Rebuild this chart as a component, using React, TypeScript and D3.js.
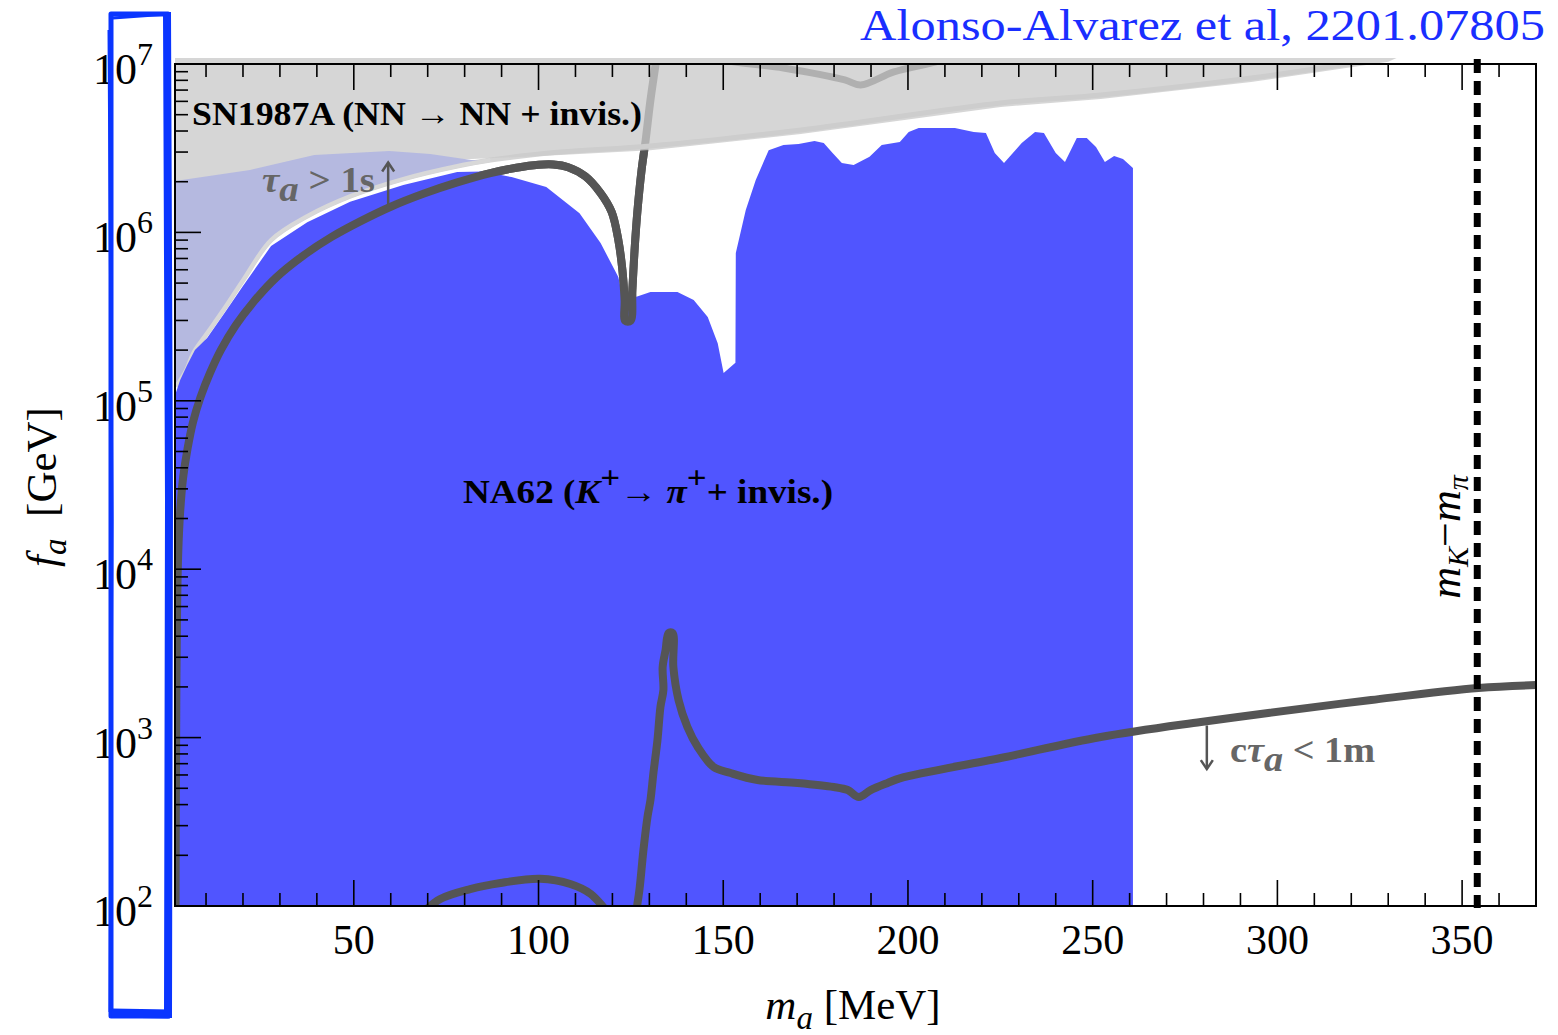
import React from 'react';
import * as d3 from 'd3';

const WIDTH = 1558;
const HEIGHT = 1035;
const PLOT = { left: 175, right: 1536, top: 64, bottom: 906 };

// axis domains & ticks
const massDomain: [number, number] = [1.6, 370];
const faDomain: [number, number] = [1e2, 1e7];
const xTickValues = [50, 100, 150, 200, 250, 300, 350];
const yTickExponents = [2, 3, 4, 5, 6, 7];
const mKminusMpi = 354.1;

// NA62 excluded region: upper boundary [m_a (MeV), f_a (GeV)]
const na62Boundary: [number, number][] = [
  [1.6, 1.08e5], [3.0, 1.33e5], [4.9, 1.63e5], [7.0, 2.0e5], [10.3, 2.36e5], [15.2, 3.37e5],
  [20.0, 4.81e5], [27.6, 8.3e5], [37.4, 1.15e6], [49.0, 1.52e6], [63.4, 1.91e6], [78.0, 2.28e6],
  [85.0, 2.3e6], [92.7, 2.13e6], [102.1, 1.86e6], [111.1, 1.3e6], [116.8, 8.65e5], [121.6, 5.43e5],
  [122.5, 4.4e5], [124.1, 4.13e5], [126.3, 4.13e5], [130.3, 4.43e5], [137.6, 4.43e5], [142.0, 3.97e5],
  [145.8, 3.15e5], [148.5, 2.2e5], [150.1, 1.46e5], [153.3, 1.68e5], [153.4, 7.55e5], [156.1, 1.36e6],
  [158.8, 2.05e6], [162.3, 3.08e6], [166.3, 3.3e6], [170.4, 3.35e6], [174.7, 3.49e6], [177.2, 3.4e6],
  [179.6, 2.96e6], [182.1, 2.58e6], [185.3, 2.51e6], [189.6, 2.81e6], [192.9, 3.3e6], [197.8, 3.44e6],
  [200.2, 3.95e6], [202.9, 4.17e6], [212.7, 4.17e6], [217.8, 3.95e6], [221.1, 3.89e6], [223.5, 2.96e6],
  [226.0, 2.58e6], [230.8, 3.4e6], [234.4, 3.95e6], [236.8, 3.89e6], [240.0, 2.96e6], [242.5, 2.62e6],
  [245.7, 3.64e6], [248.4, 3.64e6], [250.9, 3.21e6], [253.3, 2.62e6], [255.8, 2.84e6], [258.2, 2.73e6],
  [260.9, 2.41e6],
];

// SN1987A region: lower boundary
const snBoundary: [number, number][] = [
  [1.6, 2.02e6], [35.5, 2.32e6], [76.1, 2.69e6], [105.9, 2.88e6], [130.3, 3.08e6], [171.0, 3.84e6],
  [225.1, 5.56e6], [252.2, 6.2e6], [292.9, 7.82e6], [330.0, 1.03e7], [340.0, 1.3e7],
];

// pale tau_a > 1s contour
const paleLine: [number, number][] = [
  [1.9, 1.22e5], [4.6, 1.52e5], [6.5, 1.92e5], [10.3, 2.53e5], [15.2, 3.61e5], [20.0, 5.21e5],
  [27.6, 9.02e5], [37.4, 1.25e6], [49.0, 1.64e6], [63.4, 2.08e6], [78.0, 2.48e6], [87.0, 2.69e6],
  [105.9, 3.0e6], [130.3, 3.26e6], [171.0, 4.06e6], [225.1, 5.87e6], [252.2, 6.55e6], [292.9, 8.26e6],
  [330.0, 1.09e7],
];

// lavender region upper edge
const lavenderTop: [number, number][] = [
  [1.6, 2.02e6], [21.9, 2.35e6], [39.3, 2.88e6], [59.6, 3.04e6], [70.7, 2.92e6], [81.8, 2.69e6], [87.0, 2.66e6],
];

// upper lifetime curve (tau_a = 1 s)
const upperCurve: [number, number][] = [
  [1.76, 100], [1.84, 426], [1.95, 1.67e3], [2.17, 6.0e3], [2.5, 1.3e4], [3.0, 2.2e4], [3.8, 3.5e4],
  [5.0, 5.2e4], [6.5, 7.5e4], [8.5, 1.05e5], [11.0, 1.45e5], [14.0, 2.0e5], [18.0, 2.8e5], [23.0, 3.9e5],
  [29.0, 5.4e5], [36.0, 7.2e5], [44.0, 9.4e5], [52.0, 1.17e6], [60.0, 1.42e6], [69.0, 1.7e6],
  [78.0, 1.98e6], [87.0, 2.25e6], [94.0, 2.42e6], [100.0, 2.52e6], [104.0, 2.53e6], [108.0, 2.44e6],
  [112.7, 2.15e6], [116.8, 1.71e6], [119.8, 1.32e6], [121.6, 9.02e5], [122.7, 5.98e5], [123.3, 3.97e5],
  [123.5, 2.98e5], [124.9, 2.98e5], [125.4, 4.55e5], [126.0, 7.87e5], [126.8, 1.36e6], [127.9, 2.35e6],
  [129.0, 3.54e6], [130.3, 6.11e6], [131.7, 1.0e7], [133.0, 1.59e7],
];
const upperCurveKink: [number, number][] = [
  [143.9, 1.18e7], [149.8, 1.06e7], [166.3, 9.47e6], [182.9, 8.04e6], [187.2, 7.5e6], [196.2, 8.97e6],
  [209.4, 1.06e7], [214.3, 1.2e7],
];

// lower lifetime curve (c tau_a = 1 m)
const lowerArc: [number, number][] = [
  [68.0, 88.5], [73.4, 110], [81.5, 126], [89.7, 137], [100.5, 145], [108.6, 135], [114.1, 118], [118.1, 95],
];
const lowerCurve: [number, number][] = [
  [126.5, 94.7], [127.3, 124], [128.4, 215], [129.5, 338], [130.3, 426], [131.1, 616], [132.2, 968],
  [133.0, 1520], [133.8, 1918], [133.6, 2625], [134.4, 3313], [135.2, 4180], [136.3, 4180], [136.5, 2625],
  [137.9, 1673], [140.3, 1156], [143.1, 879], [147.4, 669], [152.0, 616], [159.3, 560], [170.1, 538],
  [179.9, 509], [183.7, 488], [186.7, 444], [189.9, 488], [194.5, 538], [198.0, 575], [225.1, 757],
  [252.2, 1008], [279.3, 1238], [297.5, 1400], [325.4, 1673], [354.4, 1971], [370.6, 2053],
];

const FONT = "'Liberation Serif', 'DejaVu Serif', serif";
const DARK = '#555555';
const BLUE = '#5055ff';

export default function App() {
  const x = d3.scaleLinear().domain(massDomain).range([PLOT.left, PLOT.right]);
  const y = d3.scaleLog().domain(faDomain).range([PLOT.bottom, PLOT.top]);

  const straight = d3.line<[number, number]>().x(d => x(d[0])).y(d => y(d[1]));
  const smooth = d3
    .line<[number, number]>()
    .x(d => x(d[0]))
    .y(d => y(d[1]))
    .curve(d3.curveCatmullRom.alpha(0.5));

  const na62Area = d3
    .area<[number, number]>()
    .x(d => x(d[0]))
    .y0(y(faDomain[0]))
    .y1(d => y(d[1]))(na62Boundary) as string;

  const snArea = d3
    .area<[number, number]>()
    .x(d => x(d[0]))
    .y0(d => y(d[1]))
    .y1(PLOT.top - 8)(snBoundary) as string;

  const belowSn = d3
    .area<[number, number]>()
    .x(d => x(d[0]))
    .y0(PLOT.bottom + 10)
    .y1(d => y(d[1]))(snBoundary) as string;

  const paleLow = paleLine.filter(d => d[0] <= 87.0);
  const lavenderPoly: [number, number][] = [
    ...lavenderTop,
    ...paleLow.slice().reverse(),
    [massDomain[0], 1.1e5],
  ];
  const lavenderPath = (straight(lavenderPoly) as string) + 'Z';

  const xMinor = d3.range(10, 370, 10).filter(v => v % 50 !== 0);
  const yMinor: number[] = [];
  for (let e = 2; e < 7; e++) for (let k = 2; k <= 9; k++) yMinor.push(k * Math.pow(10, e));

  const tauArrowX = x(59.3);
  const ctauArrowX = x(280.9);
  const upperPath = smooth(upperCurve) as string;

  return (
    <svg
      width={WIDTH}
      height={HEIGHT}
      style={{ position: 'absolute', left: 0, top: 0, background: '#fff' }}
      fontFamily={FONT}
    >
      <defs>
        <clipPath id="plotClip">
          <rect x={PLOT.left} y={PLOT.top} width={PLOT.right - PLOT.left} height={PLOT.bottom - PLOT.top} />
        </clipPath>
        <clipPath id="snClip">
          <rect x={PLOT.left} y={PLOT.top - 6} width={PLOT.right - PLOT.left} height={PLOT.bottom - PLOT.top + 6} />
        </clipPath>
        <clipPath id="belowSnClip">
          <path d={belowSn} />
        </clipPath>
      </defs>

      {/* curves under the SN1987A overlay */}
      <g clipPath="url(#plotClip)">
        <path d={upperPath} fill="none" stroke={DARK} strokeWidth={8} strokeLinejoin="miter" />
        <path d={smooth(upperCurveKink) as string} fill="none" stroke={DARK} strokeWidth={7} />
        <path d={smooth(paleLine) as string} fill="none" stroke="#d4d4d4" strokeWidth={5} />
      </g>

      {/* SN1987A region */}
      <g clipPath="url(#snClip)">
        <path d={snArea} fill="rgb(202,202,202)" fillOpacity={0.78} />
      </g>

      {/* lavender region */}
      <g clipPath="url(#plotClip)">
        <path d={lavenderPath} fill="#b5b9e0" />
        <path d={smooth(paleLow) as string} fill="none" stroke="#d8d8d8" strokeWidth={4} />
      </g>

      {/* NA62 region */}
      <g clipPath="url(#plotClip)">
        <path d={na62Area} fill={BLUE} />
      </g>

      {/* dark curves over the NA62 region */}
      <g clipPath="url(#plotClip)">
        <g clipPath="url(#belowSnClip)">
          <path d={upperPath} fill="none" stroke={DARK} strokeWidth={8} strokeLinejoin="miter" />
        </g>
        <path d={smooth(lowerArc) as string} fill="none" stroke={DARK} strokeWidth={8} />
        <path d={smooth(lowerCurve) as string} fill="none" stroke={DARK} strokeWidth={8} strokeLinejoin="round" />
      </g>

      {/* m_K - m_pi dashed line */}
      <line
        x1={x(mKminusMpi)}
        x2={x(mKminusMpi)}
        y1={PLOT.top - 5}
        y2={PLOT.bottom + 2}
        stroke="#000"
        strokeWidth={7}
        strokeDasharray="14 8"
      />

      {/* frame */}
      <rect
        x={PLOT.left}
        y={PLOT.top}
        width={PLOT.right - PLOT.left}
        height={PLOT.bottom - PLOT.top}
        fill="none"
        stroke="#000"
        strokeWidth={2}
      />

      {/* ticks */}
      <g stroke="#000" strokeWidth={1.6}>
        {xTickValues.map(v => (
          <g key={'xt' + v}>
            <line x1={x(v)} x2={x(v)} y1={PLOT.bottom} y2={PLOT.bottom - 26} />
            <line x1={x(v)} x2={x(v)} y1={PLOT.top} y2={PLOT.top + 26} />
          </g>
        ))}
        {xMinor.map(v => (
          <g key={'xm' + v}>
            <line x1={x(v)} x2={x(v)} y1={PLOT.bottom} y2={PLOT.bottom - 13} />
            <line x1={x(v)} x2={x(v)} y1={PLOT.top} y2={PLOT.top + 13} />
          </g>
        ))}
        {yTickExponents.map(e => (
          <line key={'yt' + e} x1={PLOT.left} x2={PLOT.left + 26} y1={y(Math.pow(10, e))} y2={y(Math.pow(10, e))} />
        ))}
        {yMinor.map(v => (
          <line key={'ym' + v} x1={PLOT.left} x2={PLOT.left + 13} y1={y(v)} y2={y(v)} />
        ))}
      </g>

      {/* tick labels */}
      {xTickValues.map(v => (
        <text key={'xl' + v} x={x(v)} y={954} textAnchor="middle" fontSize={42} fill="#000">
          {v}
        </text>
      ))}
      {yTickExponents.map(e => (
        <text key={'yl' + e} x={153} y={y(Math.pow(10, e)) + 20} textAnchor="end" fontSize={44} fill="#000">
          10
          <tspan dy={-19} fontSize={32}>
            {e}
          </tspan>
        </text>
      ))}

      {/* axis titles */}
      <text x={853} y={1019} textAnchor="middle" fontSize={43} fill="#000">
        <tspan fontStyle="italic">m</tspan>
        <tspan fontStyle="italic" fontSize={33} dy={10}>a</tspan>
        <tspan dy={-10}> [MeV]</tspan>
      </text>
      <text transform="translate(56,487) rotate(-90)" textAnchor="middle" fontSize={43} fill="#000">
        <tspan fontStyle="italic">f</tspan>
        <tspan fontStyle="italic" fontSize={33} dy={10}>a</tspan>
        <tspan dy={-10}>{'\u00a0\u00a0[GeV]'}</tspan>
      </text>

      {/* annotations */}
      <text x={192} y={125} fontSize={34} fontWeight="bold" fill="#000" textLength={450} lengthAdjust="spacingAndGlyphs">
        SN1987A (NN → NN + invis.)
      </text>
      <text x={463} y={503} fontSize={34} fontWeight="bold" fill="#000" textLength={370} lengthAdjust="spacingAndGlyphs">
        NA62 (<tspan fontStyle="italic">K</tspan>
        <tspan dy={-15} fontSize={32}>+</tspan>
        <tspan dy={15}>→ </tspan>
        <tspan fontStyle="italic">π</tspan>
        <tspan dy={-15} fontSize={32}>+</tspan>
        <tspan dy={15}>+ invis.)</tspan>
      </text>

      <text x={262} y={192} fontSize={35} fontWeight="bold" fill="#666" textLength={113} lengthAdjust="spacingAndGlyphs">
        <tspan fontStyle="italic">τ</tspan>
        <tspan fontStyle="italic" dy={9}>a</tspan>
        <tspan dy={-9}> {'>'} 1s</tspan>
      </text>
      <g stroke={DARK} strokeWidth={2.5} fill="none">
        <line x1={tauArrowX} x2={tauArrowX} y1={y(1.42e6)} y2={y(2.6e6)} />
        <polyline points={`${tauArrowX - 6},${y(2.6e6) + 9} ${tauArrowX},${y(2.6e6)} ${tauArrowX + 6},${y(2.6e6) + 9}`} />
      </g>

      <text x={1230} y={762} fontSize={35} fontWeight="bold" fill="#666" textLength={145} lengthAdjust="spacingAndGlyphs">
        c<tspan fontStyle="italic">τ</tspan>
        <tspan fontStyle="italic" dy={9}>a</tspan>
        <tspan dy={-9}> {'<'} 1m</tspan>
      </text>
      <g stroke={DARK} strokeWidth={2.5} fill="none">
        <line x1={ctauArrowX} x2={ctauArrowX} y1={y(1.18e3)} y2={y(650)} />
        <polyline points={`${ctauArrowX - 6},${y(650) - 9} ${ctauArrowX},${y(650)} ${ctauArrowX + 6},${y(650) - 9}`} />
      </g>

      <text transform="translate(1460,537) rotate(-90)" textAnchor="middle" fontSize={44} fontStyle="italic" fill="#000">
        m<tspan dy={8} fontSize={30}>K</tspan>
        <tspan dy={-8} fontStyle="normal">−</tspan>m
        <tspan dy={8} fontSize={30}>π</tspan>
      </text>

      {/* citation */}
      <text x={1545} y={40} textAnchor="end" fontSize={45} fill="#1a2eff" textLength={685} lengthAdjust="spacingAndGlyphs">
        Alonso-Alvarez et al, 2201.07805
      </text>

      {/* hand-drawn highlight box */}
      <g fill="none" stroke="#0a35ff" strokeLinejoin="round">
        <rect x={111} y={14} width={57} height={1002} strokeWidth={5} />
        <path d="M109,30 L112,520 L110,1012" strokeWidth={3} />
        <path d="M167,12 L169,500 L168,1018" strokeWidth={8} />
        <path d="M112,1013 L170,1014" strokeWidth={9} />
        <path d="M113,18 L168,14" strokeWidth={3} />
      </g>
    </svg>
  );
}
